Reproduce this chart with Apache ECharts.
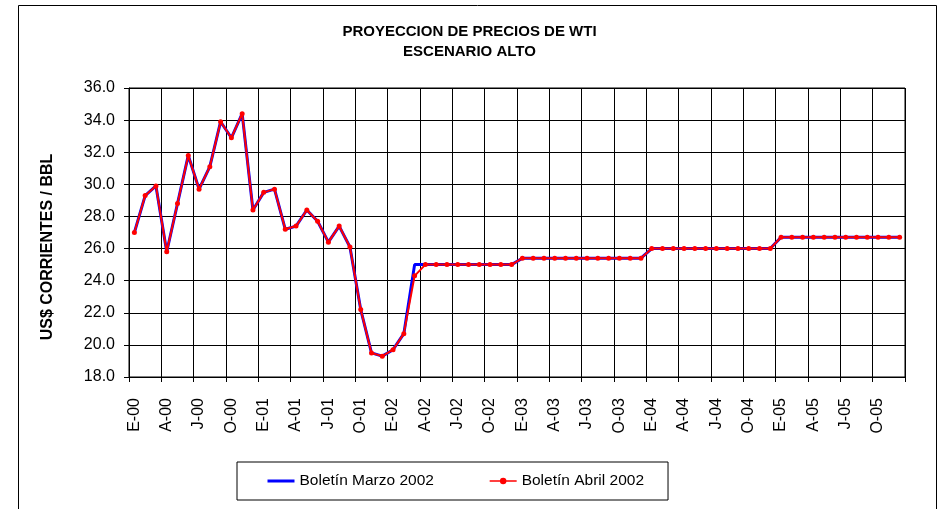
<!DOCTYPE html>
<html>
<head>
<meta charset="utf-8">
<script src="https://cdn.jsdelivr.net/npm/echarts@6/dist/echarts.min.js"></script>
<style>html,body{margin:0;padding:0;background:#fff;}#c{width:939px;height:509px;}</style>
</head>
<body>
<div id="c"></div>
<script>
// Month initials (Spanish) and years used for category labels
const monthLetters = ['E','F','M','A','M','J','J','A','S','O','N','D'];
const years = ['00','01','02','03','04','05'];
const categories = [];
years.forEach(y => monthLetters.forEach(m => categories.push(m + '-' + y)));

// Boletín Abril 2002 (red)
const abril2000 = [27.0, 29.3, 29.9, 25.8, 28.8, 31.8, 29.7, 31.1, 33.9, 32.9, 34.4, 28.4];
const abril2001 = [29.5, 29.7, 27.2, 27.4, 28.4, 27.7, 26.4, 27.4, 26.1, 22.2, 19.5, 19.3];
const abril2002 = [19.7, 20.7, 24.3, 25.0, 25.0, 25.0, 25.0, 25.0, 25.0, 25.0, 25.0, 25.0];
const abril2003 = [25.4, 25.4, 25.4, 25.4, 25.4, 25.4, 25.4, 25.4, 25.4, 25.4, 25.4, 25.4];
const abril2004 = [26.0, 26.0, 26.0, 26.0, 26.0, 26.0, 26.0, 26.0, 26.0, 26.0, 26.0, 26.0];
const abril2005 = [26.7, 26.7, 26.7, 26.7, 26.7, 26.7, 26.7, 26.7, 26.7, 26.7, 26.7, 26.7];

// Boletín Marzo 2002 (blue)
const marzo2000 = [27.0, 29.3, 29.9, 25.8, 28.8, 31.8, 29.7, 31.1, 33.9, 32.9, 34.4, 28.4];
const marzo2001 = [29.5, 29.7, 27.2, 27.4, 28.4, 27.7, 26.4, 27.4, 26.1, 22.2, 19.5, 19.3];
const marzo2002 = [19.7, 20.7, 25.0, 25.0, 25.0, 25.0, 25.0, 25.0, 25.0, 25.0, 25.0, 25.0];
const marzo2003 = [25.4, 25.4, 25.4, 25.4, 25.4, 25.4, 25.4, 25.4, 25.4, 25.4, 25.4, 25.4];
const marzo2004 = [26.0, 26.0, 26.0, 26.0, 26.0, 26.0, 26.0, 26.0, 26.0, 26.0, 26.0, 26.0];
const marzo2005 = [26.7, 26.7, 26.7, 26.7, 26.7, 26.7, 26.7, 26.7, 26.7, 26.7, 26.7, 26.7];

const abril = [].concat(abril2000, abril2001, abril2002, abril2003, abril2004, abril2005);
const marzo = [].concat(marzo2000, marzo2001, marzo2002, marzo2003, marzo2004, marzo2005);

const FONT = "'Liberation Sans', Arial, sans-serif";
const chart = echarts.init(document.getElementById('c'), null, {renderer: 'canvas'});
chart.setOption({
  backgroundColor: '#fff',
  animation: false,
  textStyle: {fontFamily: FONT, color: '#000'},
  title: {
    text: 'PROYECCION DE PRECIOS DE WTI\nESCENARIO ALTO',
    left: 'center', top: 22, padding: 0,
    textStyle: {fontFamily: FONT, fontSize: 15, fontWeight: 'bold', color: '#000', lineHeight: 20}
  },
  graphic: [
    {type: 'rect', left: 16, top: 3, shape: {width: 918, height: 520},
     style: {fill: null, stroke: '#000', lineWidth: 1}, silent: true, z: -1},
    {type: 'text', x: 48, y: 247, rotation: Math.PI / 2,
     style: {text: 'US$ CORRIENTES / BBL', fontFamily: FONT, fontSize: 16, fontWeight: 'bold',
             fill: '#000', align: 'center', verticalAlign: 'middle'}}
  ],
  legend: {
    left: 237, top: 462,
    padding: [11, 24, 11, 29],
    itemGap: 55, itemWidth: 27, itemHeight: 8,
    borderColor: '#000', borderWidth: 1,
    textStyle: {fontFamily: FONT, fontSize: 15.5, color: '#000', lineHeight: 16},
    data: [
      {name: 'Boletín Marzo 2002', itemStyle: {opacity: 0}, lineStyle: {width: 3}},
      {name: 'Boletín Abril 2002', lineStyle: {width: 1.5}}
    ]
  },
  grid: {left: 129, right: 34, top: 88, bottom: 132, containLabel: false, outerBoundsMode: 'none',
         show: true, borderColor: '#000', borderWidth: 1},
  xAxis: {
    type: 'category', data: categories, boundaryGap: true,
    axisLine: {lineStyle: {color: '#000', width: 1}},
    axisTick: {show: true, interval: 2, length: 5, lineStyle: {color: '#000'}},
    splitLine: {show: true, interval: 2, lineStyle: {color: '#000', width: 1}},
    axisLabel: {interval: 2, rotate: 90, margin: 21, fontFamily: FONT, fontSize: 16, color: '#000'}
  },
  yAxis: {
    type: 'value', min: 18, max: 36, interval: 2,
    axisLine: {show: true, lineStyle: {color: '#000', width: 1}},
    axisTick: {show: true, length: 5, lineStyle: {color: '#000'}},
    splitLine: {show: true, lineStyle: {color: '#000', width: 1}},
    axisLabel: {margin: 14, fontFamily: FONT, fontSize: 16, color: '#000',
                formatter: v => v.toFixed(1)}
  },
  series: [
    {name: 'Boletín Marzo 2002', type: 'line', data: marzo, symbol: 'none',
     lineStyle: {color: '#0000ff', width: 3}, itemStyle: {color: '#0000ff'}, z: 2},
    {name: 'Boletín Abril 2002', type: 'line', data: abril, symbol: 'circle', symbolSize: 5,
     showAllSymbol: true,
     lineStyle: {color: '#ff0000', width: 2}, itemStyle: {color: '#ff0000'}, z: 3}
  ]
});
</script>
</body>
</html>
